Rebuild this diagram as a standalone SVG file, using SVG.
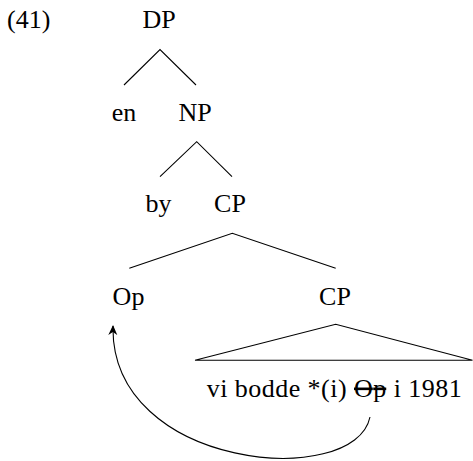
<svg xmlns="http://www.w3.org/2000/svg" width="473" height="461" viewBox="0 0 473 461">
<defs>
<style>
text{font-family:"Liberation Serif","Times New Roman",serif;font-size:26px;fill:#000}
.lbl{text-anchor:middle}
.e{stroke:#000;stroke-width:1.1;fill:none}
</style>
<marker id="ah" viewBox="0 0 10 10" refX="9" refY="5" markerWidth="10" markerHeight="10" markerUnits="userSpaceOnUse" orient="auto">
<path d="M0,0.5 L10,5 L0,9.5 L3,5 Z" fill="#000"/>
</marker>
</defs>
<rect width="473" height="461" fill="#fff"/>
<text x="7" y="28">(41)</text>
<g id="connectors">
<path class="e" d="M124,85 L160,49.5 L196,85"/>
<path class="e" d="M160,176.7 L196.7,141.7 L232,176.7"/>
<path class="e" d="M129.3,268.3 L232.3,233.3 L335.7,268.3"/>
<path class="e" d="M370,417 C355,490 110,470 113,326" marker-end="url(#ah)"/>
</g>
<g id="n-DP"><text class="lbl" x="159" y="28">DP</text></g>
<g id="n-en"><text class="lbl" x="124" y="121">en</text></g>
<g id="n-NP"><text class="lbl" x="195" y="121">NP</text></g>
<g id="n-by"><text class="lbl" x="158.5" y="212">by</text></g>
<g id="n-CP1"><text class="lbl" x="230" y="212">CP</text></g>
<g id="n-Op"><text class="lbl" x="128.5" y="305">Op</text></g>
<g id="n-CP2"><text class="lbl" x="335" y="305">CP</text></g>
<g id="n-tri">
<path class="e" d="M195,360.3 L335.7,324.3 L472.5,360.3 Z"/>
<text x="206.7" y="396.5" textLength="255" lengthAdjust="spacing">vi bodde *(i) <tspan text-decoration="line-through">Op</tspan> i 1981</text>
</g>
</svg>
